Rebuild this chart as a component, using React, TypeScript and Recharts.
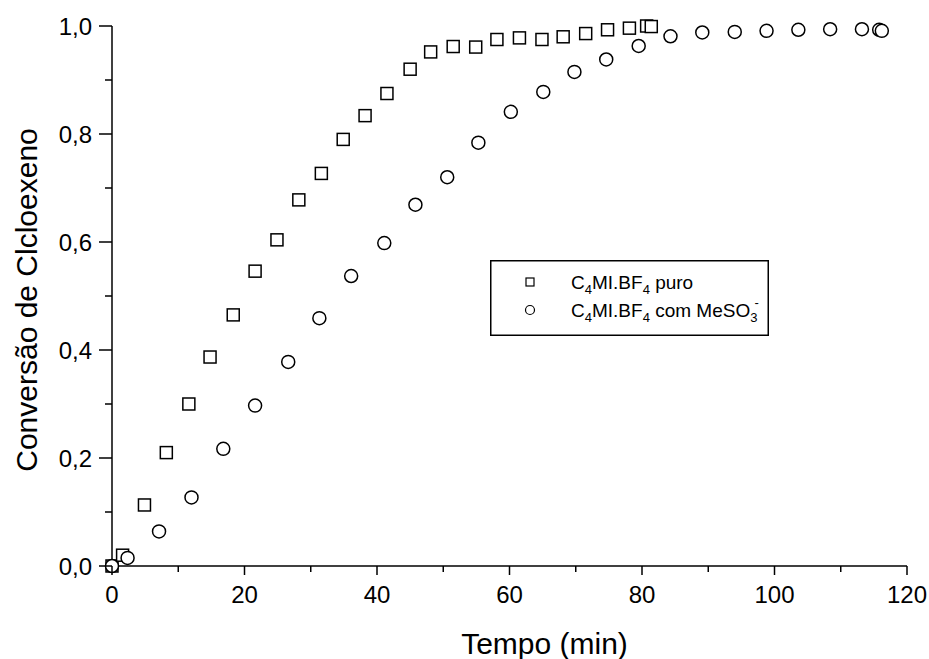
import React from "react";
import { ScatterChart, Scatter, XAxis, YAxis, Label } from "recharts";

const puroTime = [0, 1.6, 4.9, 8.2, 11.6, 14.8, 18.3, 21.6, 24.9, 28.2, 31.6, 34.9, 38.2, 41.5, 45.0, 48.1, 51.5, 54.9, 58.1, 61.5, 64.9, 68.1, 71.5, 74.8, 78.1, 80.7, 81.4];
const puroConv = [0, 0.02, 0.113, 0.21, 0.30, 0.387, 0.465, 0.546, 0.604, 0.678, 0.727, 0.790, 0.834, 0.875, 0.920, 0.952, 0.962, 0.961, 0.975, 0.978, 0.975, 0.980, 0.986, 0.993, 0.996, 1.0, 0.999];

const mesTime = [0, 2.35, 7.1, 12.0, 16.8, 21.6, 26.6, 31.3, 36.1, 41.1, 45.8, 50.6, 55.3, 60.2, 65.1, 69.8, 74.6, 79.5, 84.3, 89.1, 94.0, 98.8, 103.6, 108.4, 113.2, 115.8, 116.2];
const mesConv = [0, 0.015, 0.064, 0.127, 0.217, 0.297, 0.378, 0.459, 0.537, 0.598, 0.669, 0.720, 0.784, 0.841, 0.878, 0.915, 0.938, 0.963, 0.981, 0.988, 0.989, 0.991, 0.993, 0.994, 0.994, 0.993, 0.991];

const xTicks = [0, 10, 20, 30, 40, 50, 60, 70, 80, 90, 100, 110, 120];
const yTicks = [0, 0.1, 0.2, 0.3, 0.4, 0.5, 0.6, 0.7, 0.8, 0.9, 1.0];

const xTitle = "Tempo (min)";
const yTitle = "Conversão de Clcloexeno";

const puroData = puroTime.map((t, i) => ({ t, c: puroConv[i] }));
const mesData = mesTime.map((t, i) => ({ t, c: mesConv[i] }));

const FONT = "'Liberation Sans', Arial, Helvetica, sans-serif";

const YTick = (props: any) => {
  const { x, y, payload } = props;
  const v = payload.value as number;
  const major = Math.round(v * 10) % 2 === 0;
  return (
    <g>
      <line x1={x} x2={x - (major ? 13 : 7)} y1={y} y2={y} stroke="#000" strokeWidth={1.5} />
      {major && (
        <text x={x - 20} y={y} dy="0.36em" textAnchor="end" fontSize={24} fontFamily={FONT} fill="#000">
          {v.toFixed(1).replace(".", ",")}
        </text>
      )}
    </g>
  );
};

const XTick = (props: any) => {
  const { x, y, payload } = props;
  const v = payload.value as number;
  const major = Math.round(v) % 20 === 0;
  return (
    <g>
      <line x1={x} x2={x} y1={y} y2={y + (major ? 9 : 6)} stroke="#000" strokeWidth={1.5} />
      {major && (
        <text x={x} y={y + 37} textAnchor="middle" fontSize={24} fontFamily={FONT} fill="#000">
          {String(v)}
        </text>
      )}
    </g>
  );
};

const SquareShape = (props: any) => {
  const { cx, cy } = props;
  return <rect x={cx - 6} y={cy - 6} width={12} height={12} fill="#fff" stroke="#000" strokeWidth={1.5} />;
};

const CircleShape = (props: any) => {
  const { cx, cy } = props;
  return <circle cx={cx} cy={cy} r={6.5} fill="#fff" stroke="#000" strokeWidth={1.5} />;
};

const LegendBox = () => (
  <svg width={279} height={76} style={{ display: "block" }}>
    <rect x={0.75} y={0.75} width={277.5} height={74.5} fill="#fff" stroke="#000" strokeWidth={1.5} />
    <rect x={36} y={18} width={8} height={8} fill="none" stroke="#000" strokeWidth={1.2} />
    <circle cx={40} cy={50} r={4.5} fill="none" stroke="#000" strokeWidth={1.2} />
    <text x={81} y={29} fontSize={19} fontFamily={FONT} fill="#000" style={{ whiteSpace: "pre" }}>
      C<tspan fontSize={13} dy={5}>4</tspan>
      <tspan dy={-5}>MI.BF</tspan>
      <tspan fontSize={13} dy={5}>4</tspan>
      <tspan dy={-5}> puro</tspan>
    </text>
    <text x={81} y={57} fontSize={19} fontFamily={FONT} fill="#000" style={{ whiteSpace: "pre" }}>
      C<tspan fontSize={13} dy={5}>4</tspan>
      <tspan dy={-5}>MI.BF</tspan>
      <tspan fontSize={13} dy={5}>4</tspan>
      <tspan dy={-5}> com MeSO</tspan>
      <tspan fontSize={13} dy={5}>3</tspan>
      <tspan fontSize={13} dx={-3} dy={-15}>-</tspan>
    </text>
  </svg>
);

export default function App() {
  return (
    <div style={{ position: "absolute", left: 0, top: 0, width: 929, height: 659, background: "#fff" }}>
      <ScatterChart width={929} height={659} margin={{ top: 26, right: 22, bottom: 92, left: 111 }}>
        <XAxis
          type="number"
          dataKey="t"
          domain={[0, 120]}
          ticks={xTicks}
          interval={0}
          height={1}
          tickSize={0}
          tickMargin={0}
          tick={<XTick />}
          tickLine={false}
          axisLine={{ stroke: "#000", strokeWidth: 1.5 }}
        >
          <Label
            content={(p: any) => {
              const vb = p.viewBox || {};
              const cx = (vb.x ?? 112) + (vb.width ?? 795) / 2 + 35;
              return (
                <text x={cx} y={654} textAnchor="middle" fontSize={30} fontFamily={FONT} fill="#000">
                  {xTitle}
                </text>
              );
            }}
          />
        </XAxis>
        <YAxis
          type="number"
          dataKey="c"
          domain={[0, 1]}
          ticks={yTicks}
          interval={0}
          width={1}
          tickSize={0}
          tickMargin={0}
          tick={<YTick />}
          tickLine={false}
          axisLine={{ stroke: "#000", strokeWidth: 1.5 }}
        >
          <Label
            content={() => (
              <text
                x={37}
                y={300}
                transform="rotate(-90 37 300)"
                textAnchor="middle"
                fontSize={30}
                fontFamily={FONT}
                fill="#000"
              >
                {yTitle}
              </text>
            )}
          />
        </YAxis>
        <Scatter name="C4MI.BF4 puro" data={puroData} shape={<SquareShape />} isAnimationActive={false} />
        <Scatter name="C4MI.BF4 com MeSO3-" data={mesData} shape={<CircleShape />} isAnimationActive={false} />
      </ScatterChart>
      <div style={{ position: "absolute", left: 490, top: 260 }}>
        <LegendBox />
      </div>
    </div>
  );
}
